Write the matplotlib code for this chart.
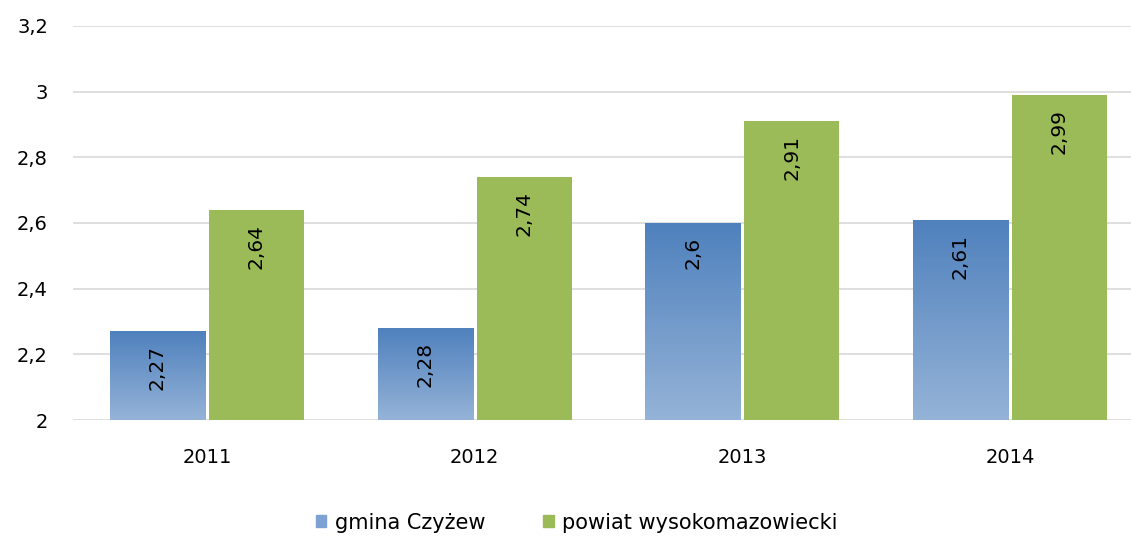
import numpy as np
import matplotlib.pyplot as plt
from matplotlib.colors import LinearSegmentedColormap
from matplotlib.patches import Patch

years = ["2011", "2012", "2013", "2014"]
gmina = [2.27, 2.28, 2.60, 2.61]
powiat = [2.64, 2.74, 2.91, 2.99]
gmina_lbl = ["2,27", "2,28", "2,6", "2,61"]
powiat_lbl = ["2,64", "2,74", "2,91", "2,99"]
yticks = [2, 2.2, 2.4, 2.6, 2.8, 3, 3.2]
ytick_lbl = ["2", "2,2", "2,4", "2,6", "2,8", "3", "3,2"]

plt.rcParams['font.family'] = ['DejaVu Sans']

fig = plt.figure(figsize=[11.31, 5.37], dpi=100)
ax = fig.add_axes([73 / 1131, 1 - 420 / 537, 1058 / 1131, 394 / 537])

x = np.arange(len(years))
w = 0.355
off = 0.185

ax.set_xlim(-0.5, -0.5 + 1058 / 267.7)
ax.set_ylim(2, 3.2)

# blue bars with vertical gradient
blue_cmap = LinearSegmentedColormap.from_list("bl", ["#95b3d7", "#4f81bd"])
grad = np.linspace(0, 1, 256).reshape(-1, 1)
bars_b = ax.bar(x - off, np.array(gmina) - 2, w, bottom=2, color="none",
                edgecolor="none", zorder=2)
for b in bars_b:
    x0, y0 = b.get_x(), b.get_y()
    img = ax.imshow(grad, cmap=blue_cmap, origin="lower", aspect="auto",
                    extent=[x0, x0 + b.get_width(), y0, y0 + b.get_height()],
                    zorder=2)
    img.set_clip_path(b)
bars_g = ax.bar(x + off, np.array(powiat) - 2, w, bottom=2, color="#9bbb59",
                zorder=2)

for xi, v, t in zip(x - off, gmina, gmina_lbl):
    ax.annotate(t, (xi, v), xytext=(0, -14), textcoords="offset pixels",
                rotation=90, ha="center", va="top", fontsize=14.5, zorder=3)
for xi, v, t in zip(x + off, powiat, powiat_lbl):
    ax.annotate(t, (xi, v), xytext=(0, -14), textcoords="offset pixels",
                rotation=90, ha="center", va="top", fontsize=14.5, zorder=3)

ax.set_yticks(yticks)
ax.set_yticklabels(ytick_lbl, fontsize=14)
ax.set_xticks(x)
ax.set_xticklabels(years, fontsize=14)
ax.tick_params(length=0)
ax.tick_params(axis="y", pad=18)
ax.tick_params(axis="x", pad=20)
ax.grid(axis="y", color="#d9d9d9", linewidth=1.2, zorder=0)
ax.set_axisbelow(True)
for s in ["top", "right", "left", "bottom"]:
    ax.spines[s].set_visible(False)

handles = [Patch(color="#7ea1d3", label="gmina Czyżew"),
           Patch(color="#9bbb59", label="powiat wysokomazowiecki")]
fig.legend(handles=handles, loc="center", bbox_to_anchor=(0.51, 0.027),
           ncol=2, frameon=False, fontsize=15, handlelength=0.5,
           handleheight=0.5, handletextpad=0.4, columnspacing=2.8)

plt.savefig("out.png", dpi=100)
